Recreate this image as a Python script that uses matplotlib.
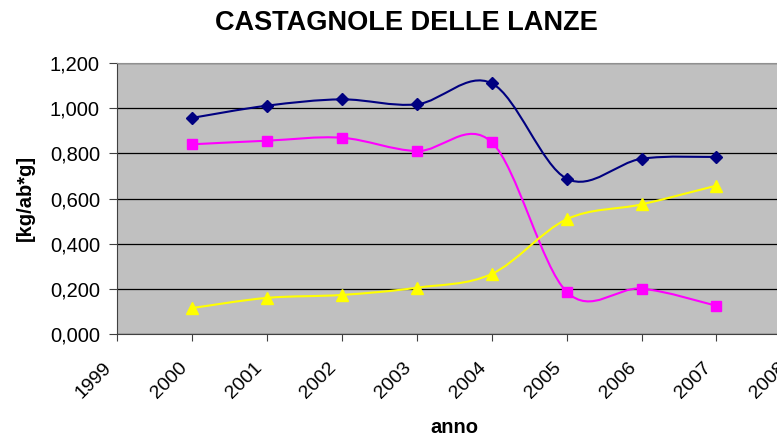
import numpy as np
import matplotlib
matplotlib.use("Agg")
import matplotlib.pyplot as plt
from matplotlib.path import Path
from matplotlib.patches import PathPatch
from matplotlib.ticker import FuncFormatter
from matplotlib.transforms import ScaledTranslation

anni = [2000, 2001, 2002, 2003, 2004, 2005, 2006, 2007]
serie_blu = [0.957, 1.011, 1.039, 1.017, 1.110, 0.688, 0.776, 0.784]
serie_magenta = [0.840, 0.856, 0.869, 0.810, 0.849, 0.187, 0.201, 0.125]
serie_gialla = [0.115, 0.160, 0.173, 0.205, 0.266, 0.508, 0.574, 0.657]

plt.rcParams['font.family'] = ['Liberation Sans', 'DejaVu Sans']


def linea_smussata(ax, x, y, colore):
    # curva tipo Excel (Catmull-Rom disegnata con Bezier)
    pts = np.column_stack([np.asarray(x, float), np.asarray(y, float)])
    verts = [pts[0]]
    codes = [Path.MOVETO]
    n = len(pts)
    for i in range(n - 1):
        p0 = pts[i - 1] if i > 0 else pts[i]
        p3 = pts[i + 2] if i + 2 < n else pts[i + 1]
        c1 = pts[i] + (pts[i + 1] - p0) / 6
        c2 = pts[i + 1] - (p3 - pts[i]) / 6
        verts += [c1, c2, pts[i + 1]]
        codes += [Path.CURVE4] * 3
    ax.add_patch(PathPatch(Path(verts, codes), facecolor='none',
                           edgecolor=colore, lw=1.5, zorder=3))


fig = plt.figure(figsize=(7.77, 4.36), dpi=100)
# l'area del grafico esce a destra (2008 tagliato come nell'originale)
ax = fig.add_axes([117.3 / 777, 1 - 334 / 436, 674 / 777, 271 / 436])
ax.set_facecolor('#C0C0C0')

for ys, col, mk, ms in [(serie_blu, '#000080', 'D', 6.5),
                        (serie_magenta, '#FF00FF', 's', 7.2),
                        (serie_gialla, '#FFFF00', '^', 8.2)]:
    linea_smussata(ax, anni, ys, col)
    ax.plot(anni, ys, linestyle='none', marker=mk, color=col,
            markersize=ms, zorder=4)

ax.set_xlim(1999, 2008)
ax.set_ylim(0, 1.2)
ax.set_xticks(range(1999, 2009))
ax.set_yticks(np.arange(0, 1.21, 0.2))
ax.yaxis.set_major_formatter(FuncFormatter(lambda v, p: f"{v:.3f}".replace('.', ',')))
ax.grid(axis='y', color='black', lw=0.9)
ax.set_axisbelow(True)
ax.tick_params(axis='y', labelsize=14.5, direction='out', length=5.5, pad=7, color='#404040')
ax.tick_params(axis='x', labelsize=14, direction='out', length=5, pad=0, color='#404040')
sposta = ScaledTranslation(-0.14, -0.18, fig.dpi_scale_trans)
for lab in ax.get_xticklabels():
    lab.set_rotation(45)
    lab.set_ha('right')
    lab.set_va('top')
    lab.set_rotation_mode('anchor')
    lab.set_transform(lab.get_transform() + sposta)

for s in ['top', 'right']:
    ax.spines[s].set_color('#909090')
for s in ['left', 'bottom']:
    ax.spines[s].set_color('#404040')

fig.text(406.5 / 777, 1 - 23 / 436, 'CASTAGNOLE DELLE LANZE', fontsize=19.5,
         fontweight='bold', ha='center', va='center')
fig.text(454 / 777, 1 - 433 / 436, 'anno', fontsize=14.5, fontweight='bold',
         ha='center', va='baseline')
fig.text(25 / 777, 1 - 198 / 436, '[kg/ab*g]', fontsize=14.5, fontweight='bold',
         ha='center', va='center', rotation=90)

fig.savefig('out.png', dpi=100)
